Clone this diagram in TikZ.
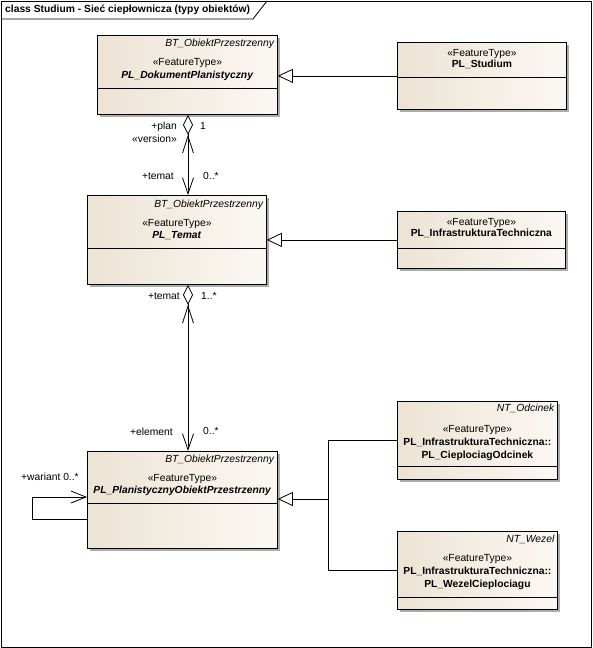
\documentclass[tikz,border=0pt]{standalone}
\usepackage{fontspec}
\setmainfont{Liberation Sans}
\usetikzlibrary{positioning, arrows.meta, shadows}
\definecolor{klasaL}{RGB}{236,227,212}
\definecolor{klasaR}{RGB}{251,248,243}
\definecolor{cien}{RGB}{172,172,172}
\newcommand{\tbf}[1]{\textbf{#1}}
\newcommand{\tit}[1]{\textit{#1}}

\begin{document}
\begin{tikzpicture}[
		x=1pt, y=-1pt,
		font=\fontsize{10.3}{12}\selectfont,
		klasa/.style={draw, line width=0.8pt, rectangle, anchor=north west, inner sep=0pt, left color=klasaL, right color=klasaR, drop shadow={shadow xshift=3pt, shadow yshift=-3pt, fill=cien, opacity=1}},
		opis/.style={anchor=mid, inner sep=0pt},
		nadrz/.style={anchor=mid east, inner sep=0pt, xshift=-3pt},
		etyk/.style={inner sep=0pt},
		gen/.style={line width=0.8pt, -{Triangle[open, length=15pt, width=14pt]}},
		agg/.style={line width=0.8pt, {Diamond[open, length=20pt, width=10pt] Straight Barb[length=17pt, width=11pt]}-{Straight Barb[length=16pt, width=11pt]}},
	]
	\useasboundingbox (0,0) rectangle (592,648);
	\draw[line width=0.8pt] (1,1) rectangle (591,647);
	\draw[line width=0.8pt] (1,19) -- (253,19) -- (267,1);
	\node[anchor=mid west, inner sep=0pt] (tytul) at (5,10) {\tbf{class Studium - Sieć ciepłownicza (typy obiektów)}};

	\node[klasa, minimum width=180pt, minimum height=79pt] (dok) at (97,35) {};
	\draw[line width=0.8pt] (dok.west |- 0,88) -- (dok.east |- 0,88);
	\node[nadrz] (dokNad) at (dok.east |- 0,44) {\tit{BT\_ObiektPrzestrzenny}};
	\node[opis] (dokSter) at (dok.center |- 0,63) {«FeatureType»};
	\node[opis] (dokNazwa) at (dok.center |- 0,76) {\tbf{\tit{PL\_DokumentPlanistyczny}}};

	\node[klasa, minimum width=169pt, minimum height=67pt] (studium) at (397,42) {};
	\draw[line width=0.8pt] (studium.west |- 0,77) -- (studium.east |- 0,77);
	\node[opis] (studiumSter) at (studium.center |- 0,54) {«FeatureType»};
	\node[opis] (studiumNazwa) at (studium.center |- 0,65) {\tbf{PL\_Studium}};

	\node[klasa, minimum width=179pt, minimum height=89pt] (temat) at (87,195) {};
	\draw[line width=0.8pt] (temat.west |- 0,248) -- (temat.east |- 0,248);
	\node[nadrz] (tematNad) at (temat.east |- 0,205) {\tit{BT\_ObiektPrzestrzenny}};
	\node[opis] (tematSter) at (temat.center |- 0,224) {«FeatureType»};
	\node[opis] (tematNazwa) at (temat.center |- 0,236) {\tbf{\tit{PL\_Temat}}};

	\node[klasa, minimum width=168pt, minimum height=57pt] (infra) at (397,211) {};
	\draw[line width=0.8pt] (infra.west |- 0,248) -- (infra.east |- 0,248);
	\node[opis] (infraSter) at (infra.center |- 0,223) {«FeatureType»};
	\node[opis] (infraNazwa) at (infra.center |- 0,234) {\tbf{PL\_InfrastrukturaTechniczna}};

	\node[klasa, minimum width=190pt, minimum height=97pt] (plan) at (87,451) {};
	\draw[line width=0.8pt] (plan.west |- 0,503) -- (plan.east |- 0,503);
	\node[nadrz] (planNad) at (plan.east |- 0,460) {\tit{BT\_ObiektPrzestrzenny}};
	\node[opis] (planSter) at (plan.center |- 0,479) {«FeatureType»};
	\node[opis] (planNazwa) at (plan.center |- 0,491) {\tbf{\tit{PL\_PlanistycznyObiektPrzestrzenny}}};

	\node[klasa, minimum width=160pt, minimum height=78pt] (odc) at (397,401) {};
	\draw[line width=0.8pt] (odc.west |- 0,466) -- (odc.east |- 0,466);
	\node[nadrz] (odcNad) at (odc.east |- 0,409) {\tit{NT\_Odcinek}};
	\node[opis] (odcSter) at (odc.center |- 0,430) {«FeatureType»};
	\node[opis] (odcPakiet) at (odc.center |- 0,443) {\tbf{PL\_InfrastrukturaTechniczna::}};
	\node[opis] (odcNazwa) at (odc.center |- 0,456) {\tbf{PL\_CieplociagOdcinek}};

	\node[klasa, minimum width=160pt, minimum height=78pt] (wez) at (397,531) {};
	\draw[line width=0.8pt] (wez.west |- 0,597) -- (wez.east |- 0,597);
	\node[nadrz] (wezNad) at (wez.east |- 0,540) {\tit{NT\_Wezel}};
	\node[opis] (wezSter) at (wez.center |- 0,559) {«FeatureType»};
	\node[opis] (wezPakiet) at (wez.center |- 0,572) {\tbf{PL\_InfrastrukturaTechniczna::}};
	\node[opis] (wezNazwa) at (wez.center |- 0,585) {\tbf{PL\_WezelCieplociagu}};

	% generalizacje
	\draw[gen] (studium.west) -- (studium.west -| dok.east);
	\draw[gen] (infra.west) -- (infra.west -| temat.east);
	\coordinate (zbieg) at (328,499);
	\draw[line width=0.8pt] (odc.west) -| (zbieg);
	\draw[line width=0.8pt] (wez.west) -| (zbieg);
	\draw[gen] (zbieg) -- (zbieg -| plan.east);

	% agregacje
	\coordinate (os) at (188,0);
	\draw[agg] (dok.south -| os) -- (temat.north -| os);
	\draw[agg] (temat.south -| os) -- (plan.north -| os);
	\draw[line width=0.8pt, -{Straight Barb[length=15pt, width=12pt]}] (plan.west |- 0,519) -| (32,497) -- (plan.west |- 0,497);

	\node[etyk, anchor=mid east] (lPlan) at (177,127) {+plan};
	\node[etyk, anchor=mid west] (lJeden) at (200,127) {1};
	\node[etyk, anchor=mid east] (lWersja) at (177,140) {«version»};
	\node[etyk, anchor=mid east] (lTemat1) at (174,177) {+temat};
	\node[etyk, anchor=mid west] (lZero1) at (203,177) {0..*};
	\node[etyk, anchor=mid east] (lTemat2) at (180,297) {+temat};
	\node[etyk, anchor=mid west] (lJeden2) at (201,297) {1..*};
	\node[etyk, anchor=mid east] (lElement) at (173,433) {+element};
	\node[etyk, anchor=mid west] (lZero2) at (203,432) {0..*};
	\node[etyk, anchor=mid west] (lWariant) at (21,478) {+wariant 0..*};
\end{tikzpicture}
\end{document}
